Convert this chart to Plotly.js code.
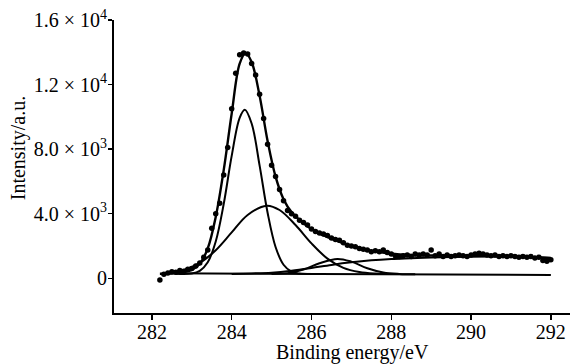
<!DOCTYPE html>
<html>
<head>
<meta charset="utf-8">
<script src="https://cdn.plot.ly/plotly-3.0.1.min.js"></script>
<style>html,body{margin:0;padding:0;background:#fff;}#chart{width:570px;height:364px;}</style>
</head>
<body>
<div id="chart"></div>
<script>
// Measured data points (binding energy, intensity)
const dataX = [282.2,282.3,282.4,282.5,282.6,282.7,282.8,282.9,283.0,283.1,283.2,283.3,283.4,283.5,283.6,283.7,283.8,283.9,284.0,284.1,284.2,284.3,284.4,284.5,284.6,284.7,284.8,284.9,285.0,285.1,285.2,285.3,285.4,285.5,285.6,285.7,285.8,285.9,286.0,286.1,286.2,286.3,286.4,286.5,286.6,286.7,286.8,286.9,287.0,287.1,287.2,287.3,287.4,287.5,287.6,287.7,287.8,287.9,288.0,288.1,288.2,288.3,288.4,288.5,288.6,288.7,288.8,288.9,289.0,289.1,289.2,289.3,289.4,289.5,289.6,289.7,289.8,289.9,290.0,290.1,290.2,290.3,290.4,290.5,290.6,290.7,290.8,290.9,291.0,291.1,291.2,291.3,291.4,291.5,291.6,291.7,291.8,291.9,292.0];
const dataY = [-100,250,330,400,380,480,430,560,600,760,950,1300,1750,3100,4000,4650,6400,8100,10500,12700,13850,13950,13900,13300,12600,11400,9900,8300,7000,6300,5500,4800,4200,4000,3850,3600,3450,3300,3050,2900,2800,2750,2650,2500,2400,2350,2200,2050,2000,1950,1850,1800,1750,1650,1700,1650,1750,1600,1500,1400,1350,1400,1450,1350,1500,1450,1500,1450,1750,1400,1500,1350,1450,1350,1400,1450,1400,1350,1450,1500,1550,1500,1450,1400,1450,1350,1400,1350,1400,1350,1300,1350,1300,1350,1250,1300,1100,1050,1150];

// Fitted envelope
const fitX = [282.2,282.6,283.0,283.2,283.4,283.6,283.8,284.0,284.2,284.35,284.5,284.7,284.9,285.1,285.3,285.5,285.8,286.1,286.5,287.0,287.5,288.0,288.5,289.0,290.0,291.0,292.0];
const fitY = [280,320,520,900,1850,3800,6700,10200,13300,13950,13400,11300,8500,6300,4900,4100,3400,2900,2450,2000,1700,1520,1440,1410,1400,1370,1250];

// Component peaks
const mainX = [282.6,283.0,283.2,283.4,283.6,283.8,284.0,284.2,284.33,284.5,284.7,284.9,285.1,285.3,285.5,285.7,286.0];
const mainY = [285,300,460,990,2280,4600,7580,9940,10440,9590,6980,4060,1940,840,410,290,260];

const comp2X = [282.4,282.8,283.2,283.6,284.0,284.4,284.88,285.2,285.6,286.0,286.4,286.8,287.2,287.6,288.0];
const comp2Y = [330,520,950,1740,2840,3920,4500,4230,3300,2160,1220,650,390,290,260];

const comp3X = [285.0,285.4,285.8,286.2,286.65,287.0,287.4,287.8,288.2,288.6];
const comp3Y = [260,320,540,930,1200,1030,625,360,270,250];

const comp4X = [284.0,284.5,285.0,285.5,286.0,286.5,287.0,287.5,288.0,288.5,289.0,289.5,290.0,290.5,291.0,291.5,292.0];
const comp4Y = [270,300,350,470,640,830,990,1110,1190,1240,1290,1320,1340,1350,1340,1320,1280];

// Background
const baseX = [282.3,284.0,286.0,288.0,290.0,292.0];
const baseY = [310,290,255,230,215,205];

// Tick labels
const xTicks = [282,284,286,288,290,292];
const yTickVals = [0,4000,8000,12000,16000];
const yTickText = ["0","4.0 × 10<sup>3</sup>","8.0 × 10<sup>3</sup>","1.2 × 10<sup>4</sup>","1.6 × 10<sup>4</sup>"];

const FONT = "Liberation Serif, serif";
const lineStyle = {color:"#000", width:2, shape:"spline", smoothing:1};

const traces = [
  {x:baseX, y:baseY, mode:"lines", line:{color:"#000", width:2}},
  {x:comp4X, y:comp4Y, mode:"lines", line:lineStyle},
  {x:comp3X, y:comp3Y, mode:"lines", line:lineStyle},
  {x:comp2X, y:comp2Y, mode:"lines", line:lineStyle},
  {x:mainX, y:mainY, mode:"lines", line:lineStyle},
  {x:fitX, y:fitY, mode:"lines", line:{color:"#000", width:2.4, shape:"spline", smoothing:1}},
  {x:dataX, y:dataY, mode:"markers", marker:{color:"#000", size:5.5}}
];

const layout = {
  width:570, height:364,
  margin:{l:114, r:0, t:20, b:51},
  paper_bgcolor:"#fff", plot_bgcolor:"#fff",
  showlegend:false,
  font:{family:FONT, color:"#000", size:20},
  xaxis:{
    range:[281.05,292.48], tickvals:xTicks, ticktext:xTicks.map(String),
    showline:true, linecolor:"#000", linewidth:2,
    ticks:"outside", ticklen:5, tickwidth:1.5, tickcolor:"#000",
    ticklabelstandoff:-5,
    showgrid:false, zeroline:false, automargin:false,
    tickfont:{family:FONT, size:20, color:"#000"}
  },
  yaxis:{
    range:[-2150,16000], tickvals:yTickVals, ticktext:yTickText,
    showline:true, linecolor:"#000", linewidth:2,
    ticks:"outside", ticklen:4, tickwidth:1.5, tickcolor:"#000",
    ticklabelstandoff:-3,
    showgrid:false, zeroline:false, automargin:false,
    tickfont:{family:FONT, size:20, color:"#000"}
  },
  annotations:[
    {text:"Binding energy/eV", xref:"paper", yref:"paper", x:0.524, y:-0.135,
     xanchor:"center", yanchor:"middle", showarrow:false, font:{family:FONT, size:20, color:"#000"}},
    {text:"Intensity/a.u.", xref:"paper", yref:"paper", x:-0.21, y:0.563, textangle:-90,
     xanchor:"center", yanchor:"middle", showarrow:false, font:{family:FONT, size:20, color:"#000"}}
  ]
};

Plotly.newPlot("chart", traces, layout, {displayModeBar:false, staticPlot:true});
</script>
</body>
</html>
